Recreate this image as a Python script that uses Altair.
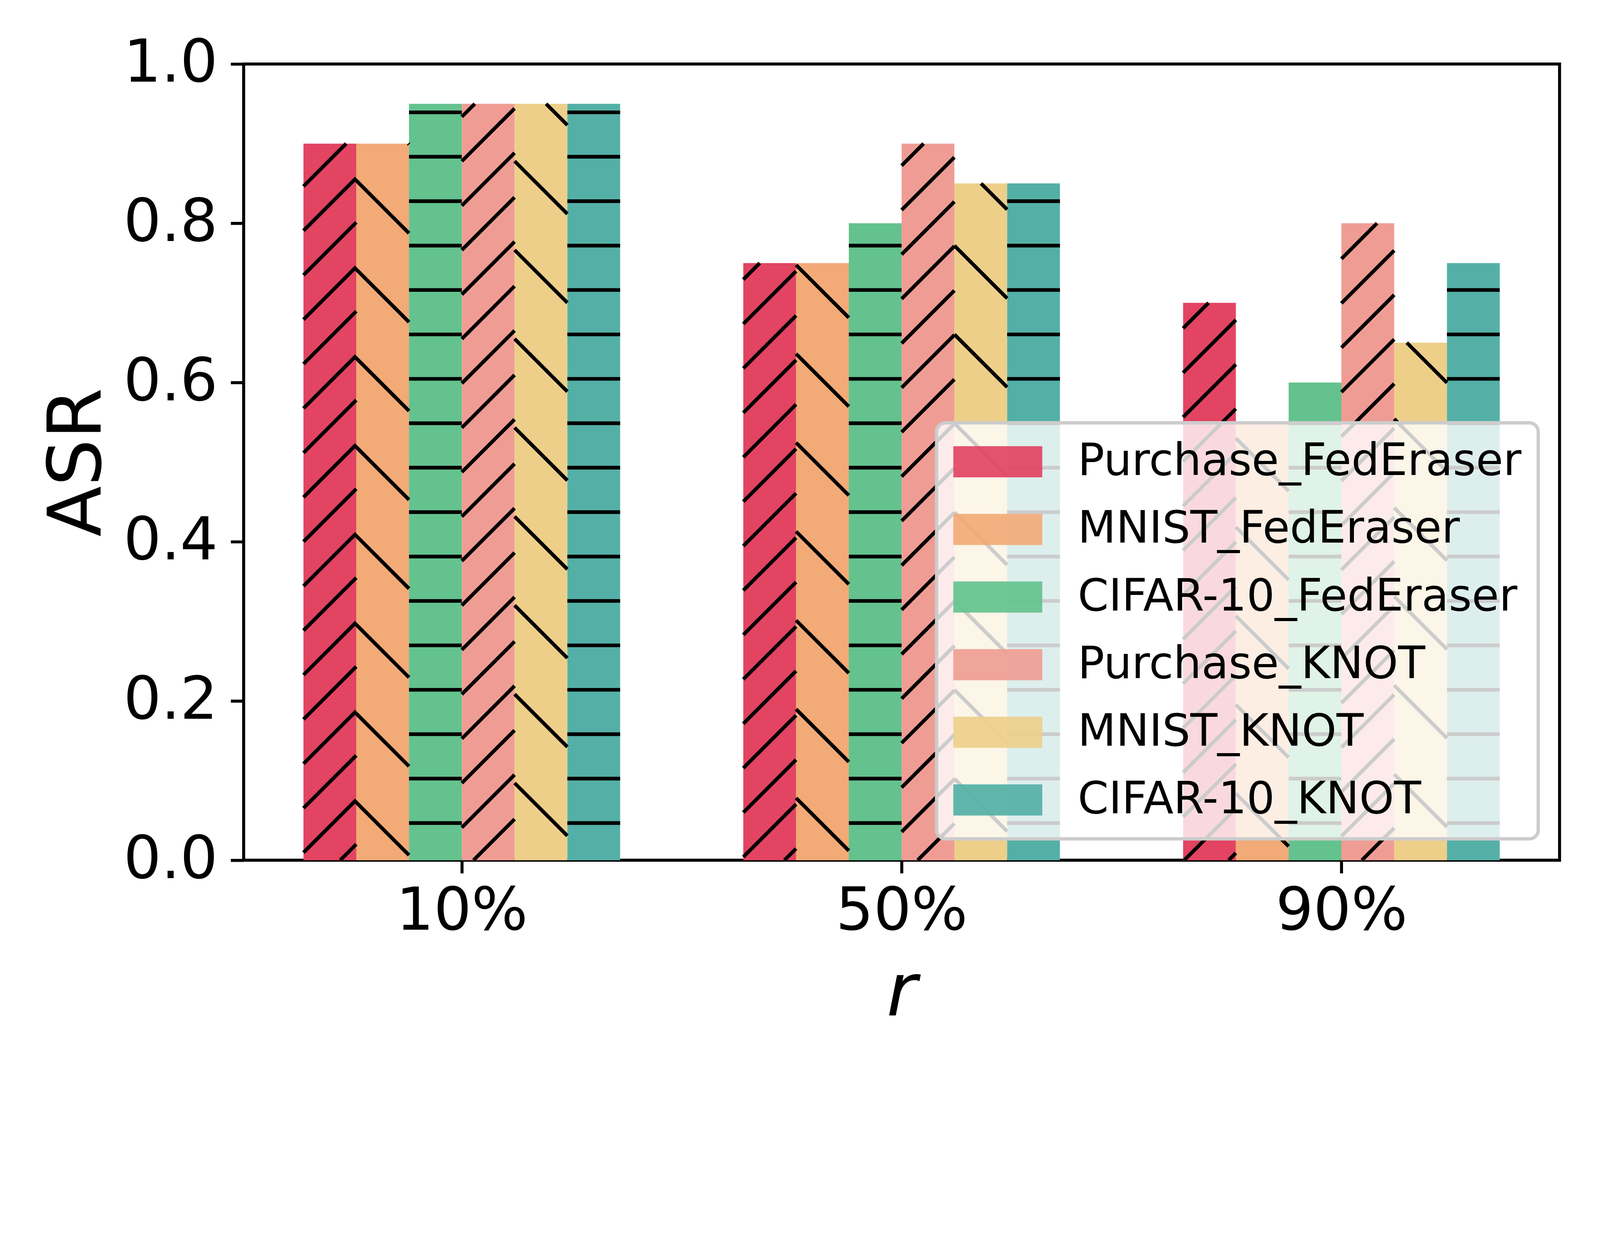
import altair as alt
import pandas as pd
import numpy as np

# ---------------- data ----------------
groups = ["10%", "50%", "90%"]
series = ["Purchase_FedEraser", "MNIST_FedEraser", "CIFAR-10_FedEraser",
          "Purchase_KNOT", "MNIST_KNOT", "CIFAR-10_KNOT"]
colors = ["#E24462", "#F2AA77", "#64C28E", "#EF9D94", "#EDCF8A", "#54B0A6"]
hatches = ["ne2", "nw", "h", "ne2", "nw", "h"]

purchase_federaser = [0.90, 0.75, 0.70]
mnist_federaser = [0.90, 0.75, 0.55]
cifar_federaser = [0.95, 0.80, 0.60]
purchase_knot = [0.95, 0.90, 0.80]
mnist_knot = [0.95, 0.85, 0.65]
cifar_knot = [0.95, 0.85, 0.75]
values = [purchase_federaser, mnist_federaser, cifar_federaser,
          purchase_knot, mnist_knot, cifar_knot]

y_ticks = [0.0, 0.2, 0.4, 0.6, 0.8, 1.0]

# ---------------- layout ----------------
W, H = 3950, 2390
XMIN, XMAX = -0.496, 2.496
BAR_W = 0.12
PX = W / (XMAX - XMIN)
PY = H
SP_FINE = 800 / 6.0      # hatch spacing
C0, D0, Y0 = 110.0, 245.0, 111.6

bar_rows = []
seg_rows = []
for si, name in enumerate(series):
    for gi, g in enumerate(groups):
        v = values[si][gi]
        x0 = gi + (si - 2.5) * BAR_W - BAR_W / 2
        x1 = x0 + BAR_W
        bar_rows.append({"series": name, "group": g, "x0": x0, "x1": x1,
                         "value": v, "base": 0.0})
        xa, xb, hb = (x0 - XMIN) * PX, (x1 - XMIN) * PX, v * PY
        segs = []
        kind = hatches[si]
        if kind == "ne2":
            s = SP_FINE
            k0 = int(np.floor((-xb - C0) / s)) - 1
            k1 = int(np.ceil((hb - xa - C0) / s)) + 1
            for k in range(k0, k1 + 1):
                c = C0 + k * s
                lo, hi = max(xa, -c), min(xb, hb - c)
                if hi - lo > 1:
                    segs.append((lo, lo + c, hi, hi + c))
        elif kind == "nw":
            s = 2 * SP_FINE
            k0 = int(np.floor((xa - D0) / s)) - 1
            k1 = int(np.ceil((xb + hb - D0) / s)) + 1
            for k in range(k0, k1 + 1):
                d = D0 + k * s
                lo, hi = max(xa, d - hb), min(xb, d)
                if hi - lo > 1:
                    segs.append((lo, d - lo, hi, d - hi))
        else:
            s = SP_FINE
            k = 0
            while Y0 + k * s < hb - 6:
                yy = Y0 + k * s
                segs.append((xa, yy, xb, yy))
                k += 1
        for (ax, ay, bx, by) in segs:
            seg_rows.append({"x": ax / PX + XMIN, "y": ay / PY,
                             "x2": bx / PX + XMIN, "y2": by / PY})

bars_df = pd.DataFrame(bar_rows)
segs_df = pd.DataFrame(seg_rows)

label_expr = "[" + ",".join("'%s'" % g for g in groups) + "][datum.value]"

x_scale = alt.Scale(domain=[XMIN, XMAX], nice=False, zero=False)
y_scale = alt.Scale(domain=[0, 1], nice=False)

x_axis = alt.Axis(values=[0, 1, 2], labelExpr=label_expr, title="r",
                  titleFontStyle="italic", titleFontSize=222,
                  titleFontWeight="normal", titleX=W / 2, titleY=466,
                  titleBaseline="alphabetic", titleAlign="center",
                  labelFontSize=178, labelPadding=28, tickSize=39,
                  tickWidth=9, tickColor="black", domain=False, grid=False,
                  labelColor="black", titleColor="black", labelLimit=0)
y_axis = alt.Axis(values=y_ticks, format=".1f", title="ASR",
                  titleFontSize=222, titleFontWeight="normal",
                  titleX=-430, titleY=H / 2, titleAngle=270,
                  titleBaseline="alphabetic", titleAlign="center",
                  labelFontSize=178, labelPadding=39,
                  tickSize=39, tickWidth=9, tickColor="black", domain=False,
                  grid=False, labelColor="black", titleColor="black",
                  labelLimit=0)

SYM = 133.5
bars = alt.Chart(bars_df).mark_rect(strokeWidth=0).encode(
    x=alt.X("x0:Q", scale=x_scale, axis=x_axis),
    x2="x1:Q",
    y=alt.Y("base:Q", scale=y_scale, axis=y_axis),
    y2="value:Q",
    color=alt.Color("series:N", scale=alt.Scale(domain=series, range=colors),
                    legend=alt.Legend(
                        title=None, orient="bottom-right", offset=64,
                        symbolType="M-2,-0.7L2,-0.7L2,0.7L-2,0.7Z",
                        symbolSize=SYM * SYM, symbolStrokeWidth=0,
                        symbolOffset=SYM / 2, symbolOpacity=0.92,
                        labelFontSize=133, labelOffset=173,
                        rowPadding=69, padding=50,
                        fillColor="rgba(255,255,255,0.8)",
                        strokeColor="#cccccc", cornerRadius=27,
                        labelColor="black", labelLimit=0)),
)

hatch = alt.Chart(segs_df).mark_rule(color="black", strokeWidth=11,
                                     strokeCap="butt", clip=True).encode(
    x=alt.X("x:Q", scale=x_scale),
    y=alt.Y("y:Q", scale=y_scale),
    x2="x2:Q",
    y2="y2:Q",
)

chart = alt.layer(bars, hatch).properties(
    width=W, height=H,
    autosize=alt.AutoSizeParams(type="none"),
    padding={"left": 722, "top": -52, "right": 112, "bottom": 383},
).configure(font="DejaVu Sans", background="white").configure_view(
    stroke="black", strokeWidth=9
).configure_legend(strokeWidth=10)

chart.save("out.html", embed_options={"renderer": "svg", "actions": False})
